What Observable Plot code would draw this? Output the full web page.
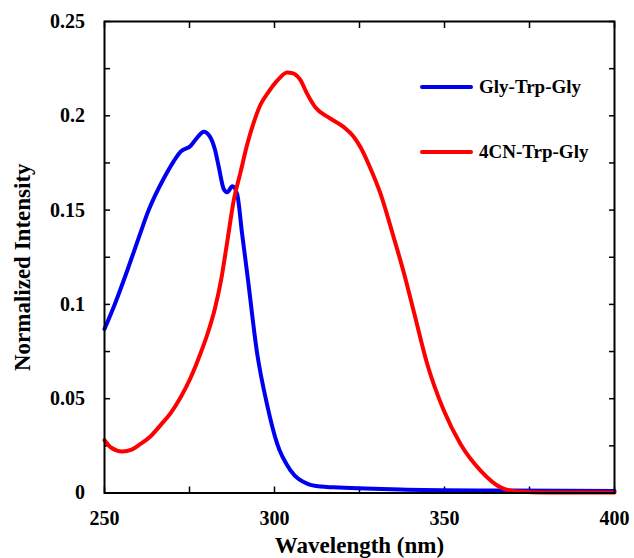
<!DOCTYPE html>
<html>
<head>
<meta charset="utf-8">
<script src="https://cdn.jsdelivr.net/npm/d3@7"></script>
<script src="https://cdn.jsdelivr.net/npm/@observablehq/plot@0.6"></script>
<style>
  html, body { margin: 0; padding: 0; background: #fff; }
  #wrap { position: relative; width: 634px; height: 558px; }
  .leg { position: absolute; font-family: "Liberation Serif", "Times New Roman", serif; font-weight: bold; font-size: 19px; color: #000; display: flex; align-items: center; white-space: nowrap; }
  .leg span.sw { display: inline-block; width: 53px; height: 4px; border-radius: 2px; margin-right: 6px; }
</style>
</head>
<body>
<div id="wrap"></div>
<script>
// ---- data ----
const seriesNames = ["Gly-Trp-Gly", "4CN-Trp-Gly"];
const seriesColors = ["#0000f0", "#ff0000"];

const glyWavelength = [250, 253, 256.7, 260, 263, 267.5, 270.4, 272.4, 275.3, 277.5, 279.2, 281, 282.5, 283.6, 285.1, 286.1, 287.6, 289, 290.5, 292, 294.9, 297.8, 300.8, 304.7, 309.6, 313.5, 317.4, 337, 366, 400];
const glyIntensity  = [0.087, 0.100, 0.118, 0.135, 0.150, 0.167, 0.176, 0.181, 0.184, 0.189, 0.1915, 0.189, 0.182, 0.173, 0.161, 0.1594, 0.1626, 0.1586, 0.137, 0.116, 0.074, 0.047, 0.026, 0.012, 0.005, 0.0034, 0.003, 0.0019, 0.0013, 0.001];

const cnWavelength = [250, 252, 255.2, 258, 260.6, 263.5, 266.5, 269.5, 272.4, 275.3, 278.2, 280.5, 282.5, 284.3, 286, 288, 290, 292, 294, 295.9, 298, 300.8, 303.7, 305.5, 307.6, 309.5, 312, 316, 320.4, 323, 325.3, 328, 331.2, 334.5, 338, 341, 344.9, 349.8, 354.7, 360.6, 366.5, 371.4, 380, 400];
const cnIntensity  = [0.028, 0.024, 0.022, 0.023, 0.026, 0.030, 0.036, 0.0425, 0.0508, 0.061, 0.0738, 0.0855, 0.098, 0.113, 0.132, 0.155, 0.170, 0.185, 0.197, 0.206, 0.212, 0.2186, 0.223, 0.2225, 0.219, 0.212, 0.2045, 0.199, 0.194, 0.1895, 0.1833, 0.173, 0.1586, 0.139, 0.117, 0.096, 0.0685, 0.0437, 0.026, 0.0119, 0.003, 0.0008, 0.0003, 0.0003];

const xTicks = [250, 275, 300, 325, 350, 375, 400];
const xLabels = [250, 300, 350, 400];
const yTicks = [0, 0.025, 0.05, 0.075, 0.1, 0.125, 0.15, 0.175, 0.2, 0.225, 0.25];
const yLabels = ["0", "0.05", "0.1", "0.15", "0.2", "0.25"];

const xTitle = "Wavelength (nm)";
const yTitle = "Normalized Intensity";

// ---- build table ----
const rows = [];
glyWavelength.forEach((w, i) => rows.push({series: seriesNames[0], w, v: glyIntensity[i]}));
cnWavelength.forEach((w, i) => rows.push({series: seriesNames[1], w, v: cnIntensity[i]}));

const font = "'Liberation Serif', 'Times New Roman', serif";
const fmtY = d => { const s = yLabels.find(l => Math.abs(+l - d) < 1e-9); return s ?? ""; };
const fmtX = d => xLabels.includes(d) ? String(d) : "";

const chart = Plot.plot({
  width: 634,
  height: 558,
  marginLeft: 104,
  marginRight: 20,
  marginTop: 21,
  marginBottom: 65.5,
  style: {fontFamily: font, fontWeight: "bold", fontSize: "20px", color: "#000", background: "#fff"},
  x: {domain: [250, 400]},
  y: {domain: [0, 0.25]},
  color: {domain: seriesNames, range: seriesColors},
  marks: [
    Plot.axisX({anchor: "bottom", ticks: xTicks, tickSize: -6, tickPadding: 24, tickFormat: fmtX, label: null, strokeWidth: 1.5, fontSize: 20}),
    Plot.axisX({anchor: "top", ticks: xTicks, tickSize: -6, tickFormat: () => "", label: null, strokeWidth: 1.5}),
    Plot.axisY({anchor: "left", ticks: yTicks, tickSize: -6, tickPadding: 25.5, tickFormat: fmtY, label: null, strokeWidth: 1.5, fontSize: 20}),
    Plot.axisY({anchor: "right", ticks: yTicks, tickSize: -6, tickFormat: () => "", label: null, strokeWidth: 1.5}),
    Plot.line(rows, {x: "w", y: "v", z: "series", stroke: "series", strokeWidth: 4, curve: "monotone-x", strokeLinejoin: "round", strokeLinecap: "round"}),
    Plot.frame({stroke: "#000", strokeWidth: 2}),
    Plot.text([xTitle], {frameAnchor: "bottom", dy: 53, lineAnchor: "middle", fontSize: 23, fontWeight: "bold"}),
    Plot.text([yTitle], {frameAnchor: "left", textAnchor: "middle", dx: -82, dy: 10, rotate: -90, lineAnchor: "middle", fontSize: 23, fontWeight: "bold"})
  ]
});

const wrap = document.getElementById("wrap");
wrap.appendChild(chart);

// legend (HTML overlay)
const legTops = [86.5, 151.5];
seriesNames.forEach((name, i) => {
  const d = document.createElement("div");
  d.className = "leg";
  d.style.left = "420px";
  d.style.top = (legTops[i] - 12) + "px";
  d.style.height = "24px";
  d.innerHTML = `<span class="sw" style="background:${seriesColors[i]}"></span>${name}`;
  wrap.appendChild(d);
});
</script>
</body>
</html>
